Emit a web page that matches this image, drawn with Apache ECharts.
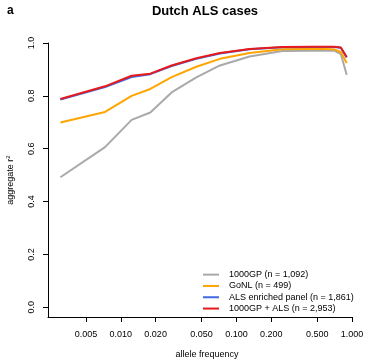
<!DOCTYPE html>
<html>
<head>
<meta charset="utf-8">
<script src="https://cdn.jsdelivr.net/npm/echarts@6/dist/echarts.min.js"></script>
<style>
  html, body { margin: 0; padding: 0; background: #fff; }
  #chart { width: 366px; height: 363px; }
</style>
</head>
<body>
<div id="chart"></div>
<script>
// allele frequency bins (x, log scale)
const freqs = [0.003, 0.0073, 0.0124, 0.018, 0.0275, 0.045, 0.072, 0.13, 0.25, 0.45, 0.7, 0.8, 0.9];
// aggregate r^2 per panel
const kgp = [0.492, 0.606, 0.709, 0.737, 0.813, 0.870, 0.915, 0.949, 0.970, 0.971, 0.971, 0.958, 0.880];
const gonl = [0.699, 0.739, 0.800, 0.826, 0.871, 0.910, 0.940, 0.962, 0.976, 0.978, 0.976, 0.966, 0.924];
const alsPanel = [0.786, 0.833, 0.871, 0.882, 0.913, 0.940, 0.960, 0.976, 0.984, 0.985, 0.985, 0.982, 0.945];
const kgpAls = [0.788, 0.836, 0.876, 0.884, 0.915, 0.942, 0.962, 0.977, 0.985, 0.986, 0.986, 0.983, 0.947];

const xTicks = [0.005, 0.01, 0.02, 0.05, 0.1, 0.2, 0.5, 1];
const yTicks = [0, 0.2, 0.4, 0.6, 0.8, 1.0];

const names = ["1000GP (n = 1,092)", "GoNL (n = 499)", "ALS enriched panel (n = 1,861)", "1000GP + ALS (n = 2,953)"];
const colors = ["#a9a9a9", "#ffa500", "#4169e1", "#e41a1c"];
const allSeries = [kgp, gonl, alsPanel, kgpAls];

const font = "Liberation Sans, Arial, Helvetica, sans-serif";
const chart = echarts.init(document.getElementById("chart"));

const option = {
  animation: false,
  textStyle: { fontFamily: font },
  graphic: [
    { type: "text", left: 7, top: 5, style: { text: "a", font: "bold 12px " + font, fill: "#000" } },
    { type: "text", x: 205, y: 5, style: { text: "Dutch ALS cases", font: "bold 13px " + font, fill: "#000", textAlign: "center" } },
    { type: "text", x: 207, y: 350, style: { text: "allele frequency", font: "9px " + font, fill: "#000", textAlign: "center" } }
  ],
  grid: { left: 48, top: 43, width: 304, height: 274, outerBoundsMode: "none", containLabel: false },
  legend: {
    orient: "vertical",
    left: 203,
    top: 269,
    padding: 0,
    itemWidth: 16,
    itemHeight: 2,
    itemGap: 0,
    icon: "rect",
    data: names,
    textStyle: { fontSize: 9, color: "#000", lineHeight: 11.3, padding: [0, 0, 0, 5], fontFamily: font }
  },
  xAxis: {
    type: "value",
    min: Math.log10(0.002344),
    max: 0,
    axisLine: { onZero: false, lineStyle: { color: "#000", width: 1 } },
    axisTick: { customValues: xTicks.map(Math.log10), length: 5, lineStyle: { color: "#000" } },
    axisLabel: {
      customValues: xTicks.map(Math.log10),
      formatter: v => Math.pow(10, v).toFixed(3),
      fontSize: 9, color: "#000", margin: 13
    },
    splitLine: { show: false }
  },
  yAxis: {
    type: "value",
    min: -0.037,
    max: 1,
    name: "aggregate r{sup|2}",
    nameLocation: "middle",
    nameRotate: 90,
    nameGap: 32,
    nameTextStyle: { fontSize: 9, color: "#000", rich: { sup: { fontSize: 6, verticalAlign: "top", padding: [0, 0, 5, 0] } } },
    axisLine: { show: true, onZero: false, lineStyle: { color: "#000", width: 1 } },
    axisTick: { show: true, customValues: yTicks, length: 5, lineStyle: { color: "#000" } },
    axisLabel: {
      customValues: yTicks,
      rotate: 90,
      formatter: v => v.toFixed(1),
      fontSize: 9, color: "#000", margin: 12
    },
    splitLine: { show: false }
  },
  series: allSeries.map((vals, i) => ({
    name: names[i],
    type: "line",
    showSymbol: false,
    symbol: "none",
    lineStyle: { color: colors[i], width: 2 },
    itemStyle: { color: colors[i] },
    data: freqs.map((f, j) => [Math.log10(f), vals[j]])
  }))
};

chart.setOption(option);
</script>
</body>
</html>
